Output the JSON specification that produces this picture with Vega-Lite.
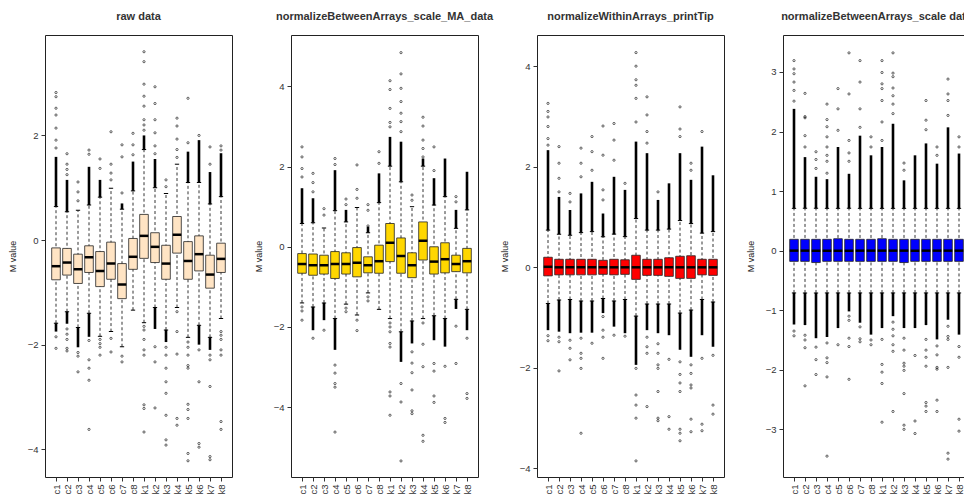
{
"$schema":"https://vega.github.io/schema/vega-lite/v6.json",
"padding":{"left":7,"top":10,"right":0,"bottom":0},
"bounds":"flush",
"spacing":59,
"datasets":{
"b1":[
{"g":"c1","lo":-1.59,"q1":-0.76,"md":-0.5,"q3":-0.15,"hi":0.64},
{"g":"c2","lo":-1.37,"q1":-0.67,"md":-0.43,"q3":-0.16,"hi":0.54},
{"g":"c3","lo":-1.67,"q1":-0.83,"md":-0.56,"q3":-0.27,"hi":0.57},
{"g":"c4","lo":-1.4,"q1":-0.62,"md":-0.33,"q3":-0.11,"hi":0.67},
{"g":"c5","lo":-1.84,"q1":-0.89,"md":-0.59,"q3":-0.22,"hi":0.82},
{"g":"c6","lo":-1.75,"q1":-0.75,"md":-0.45,"q3":-0.04,"hi":0.99},
{"g":"c7","lo":-2.04,"q1":-1.12,"md":-0.85,"q3":-0.45,"hi":0.59},
{"g":"c8","lo":-1.34,"q1":-0.56,"md":-0.32,"q3":0.03,"hi":0.94},
{"g":"k1","lo":-1.58,"q1":-0.35,"md":0.08,"q3":0.49,"hi":1.73},
{"g":"k2","lo":-1.29,"q1":-0.43,"md":-0.13,"q3":0.14,"hi":1.0},
{"g":"k3","lo":-1.72,"q1":-0.75,"md":-0.45,"q3":-0.1,"hi":0.89},
{"g":"k4","lo":-1.29,"q1":-0.25,"md":0.1,"q3":0.45,"hi":1.45},
{"g":"k5","lo":-1.86,"q1":-0.75,"md":-0.4,"q3":-0.03,"hi":1.1},
{"g":"k6","lo":-1.63,"q1":-0.59,"md":-0.27,"q3":0.08,"hi":1.1},
{"g":"k7","lo":-1.86,"q1":-0.92,"md":-0.66,"q3":-0.29,"hi":0.69},
{"g":"k8","lo":-1.5,"q1":-0.62,"md":-0.36,"q3":-0.06,"hi":0.83}],
"d1":[
{"g":"c1","a":0.64,"b":1.59},{"g":"c1","a":-1.75,"b":-1.59},
{"g":"c2","a":0.54,"b":1.15},{"g":"c2","a":-1.6,"b":-1.37},
{"g":"c3","a":-2.05,"b":-1.67},
{"g":"c4","a":0.67,"b":1.4},{"g":"c4","a":-1.85,"b":-1.4},
{"g":"c5","a":0.82,"b":1.15},
{"g":"c7","a":0.59,"b":0.7},
{"g":"c8","a":0.94,"b":1.5},
{"g":"k1","a":1.73,"b":2.0},
{"g":"k2","a":1.0,"b":1.55},{"g":"k2","a":-1.7,"b":-1.29},
{"g":"k3","a":-1.95,"b":-1.72},
{"g":"k5","a":1.1,"b":1.69},
{"g":"k6","a":1.1,"b":1.91},{"g":"k6","a":-2.0,"b":-1.63},
{"g":"k7","a":0.69,"b":1.3},{"g":"k7","a":-2.1,"b":-1.86},
{"g":"k8","a":0.83,"b":1.66}],
"o1":[
{"g":"c1","v":1.76},{"g":"c1","v":1.91},{"g":"c1","v":2.14},{"g":"c1","v":2.39},{"g":"c1","v":2.52},{"g":"c1","v":2.74},{"g":"c1","v":2.82},{"g":"c1","v":-1.85},{"g":"c1","v":-2.07},
{"g":"c2","v":1.25},{"g":"c2","v":1.35},{"g":"c2","v":1.45},{"g":"c2","v":1.65},{"g":"c2","v":-1.7},{"g":"c2","v":-1.8},{"g":"c2","v":-1.9},{"g":"c2","v":-2.07},{"g":"c2","v":-2.12},
{"g":"c3","v":0.75},{"g":"c3","v":0.92},{"g":"c3","v":1.11},{"g":"c3","v":-2.15},{"g":"c3","v":-2.22},{"g":"c3","v":-2.52},
{"g":"c4","v":1.64},{"g":"c4","v":1.72},{"g":"c4","v":-1.92},{"g":"c4","v":-2.29},{"g":"c4","v":-2.45},{"g":"c4","v":-2.68},{"g":"c4","v":-3.62},
{"g":"c5","v":1.37},{"g":"c5","v":1.55},{"g":"c5","v":-1.9},{"g":"c5","v":-1.98},{"g":"c5","v":-2.05},{"g":"c5","v":-2.2},
{"g":"c6","v":1.15},{"g":"c6","v":1.28},{"g":"c6","v":1.45},{"g":"c6","v":2.07},{"g":"c6","v":-1.88},{"g":"c6","v":-2.14},
{"g":"c7","v":0.9},{"g":"c7","v":1.59},{"g":"c7","v":1.82},{"g":"c7","v":-2.22},{"g":"c7","v":-2.33},
{"g":"c8","v":1.63},{"g":"c8","v":1.82},{"g":"c8","v":2.04},
{"g":"k1","v":2.1},{"g":"k1","v":2.2},{"g":"k1","v":2.3},{"g":"k1","v":2.56},{"g":"k1","v":2.75},{"g":"k1","v":2.98},{"g":"k1","v":3.41},{"g":"k1","v":3.6},{"g":"k1","v":-1.65},{"g":"k1","v":-1.72},{"g":"k1","v":-1.9},{"g":"k1","v":-2.1},{"g":"k1","v":-2.2},{"g":"k1","v":-3.15},{"g":"k1","v":-3.22},{"g":"k1","v":-3.67},
{"g":"k2","v":1.65},{"g":"k2","v":1.8},{"g":"k2","v":2.05},{"g":"k2","v":2.3},{"g":"k2","v":2.61},{"g":"k2","v":2.93},{"g":"k2","v":-2.04},{"g":"k2","v":-2.33},{"g":"k2","v":-3.21},
{"g":"k3","v":1.02},{"g":"k3","v":1.15},{"g":"k3","v":-2.05},{"g":"k3","v":-2.2},{"g":"k3","v":-2.45},{"g":"k3","v":-2.71},{"g":"k3","v":-2.93},{"g":"k3","v":-3.35},{"g":"k3","v":-3.82},{"g":"k3","v":-3.92},
{"g":"k4","v":1.58},{"g":"k4","v":1.73},{"g":"k4","v":1.93},{"g":"k4","v":2.18},{"g":"k4","v":2.33},{"g":"k4","v":-1.37},{"g":"k4","v":-1.75},{"g":"k4","v":-2.18},{"g":"k4","v":-3.41},{"g":"k4","v":-3.54},
{"g":"k5","v":1.86},{"g":"k5","v":2.71},{"g":"k5","v":-1.95},{"g":"k5","v":-2.05},{"g":"k5","v":-2.2},{"g":"k5","v":-2.4},{"g":"k5","v":-2.45},{"g":"k5","v":-3.14},{"g":"k5","v":-3.24},{"g":"k5","v":-3.41},{"g":"k5","v":-4.08},{"g":"k5","v":-4.22},
{"g":"k6","v":2.0},{"g":"k6","v":-2.1},{"g":"k6","v":-2.71},{"g":"k6","v":-3.89},{"g":"k6","v":-3.96},
{"g":"k7","v":1.45},{"g":"k7","v":1.78},{"g":"k7","v":-2.2},{"g":"k7","v":-2.29},{"g":"k7","v":-2.8},{"g":"k7","v":-4.14},{"g":"k7","v":-4.2},
{"g":"k8","v":1.72},{"g":"k8","v":1.8},{"g":"k8","v":-1.75},{"g":"k8","v":-1.82},{"g":"k8","v":-1.9},{"g":"k8","v":-2.1},{"g":"k8","v":-2.2},{"g":"k8","v":-3.47},{"g":"k8","v":-3.62}],
"b2":[
{"g":"c1","lo":-1.4,"q1":-0.66,"md":-0.43,"q3":-0.17,"hi":0.58},
{"g":"c2","lo":-1.5,"q1":-0.71,"md":-0.46,"q3":-0.18,"hi":0.6},
{"g":"c3","lo":-1.4,"q1":-0.68,"md":-0.46,"q3":-0.21,"hi":0.47},
{"g":"c4","lo":-1.79,"q1":-0.79,"md":-0.43,"q3":-0.12,"hi":0.9},
{"g":"c5","lo":-1.43,"q1":-0.68,"md":-0.43,"q3":-0.15,"hi":0.62},
{"g":"c6","lo":-1.7,"q1":-0.75,"md":-0.4,"q3":-0.02,"hi":0.98},
{"g":"c7","lo":-1.15,"q1":-0.65,"md":-0.46,"q3":-0.25,"hi":0.35},
{"g":"c8","lo":-1.56,"q1":-0.66,"md":-0.36,"q3":0.04,"hi":1.1},
{"g":"k1","lo":-1.79,"q1":-0.37,"md":0.1,"q3":0.58,"hi":2.01},
{"g":"k2","lo":-2.12,"q1":-0.66,"md":-0.23,"q3":0.22,"hi":1.62},
{"g":"k3","lo":-1.85,"q1":-0.77,"md":-0.46,"q3":-0.15,"hi":1.0},
{"g":"k4","lo":-1.79,"q1":-0.33,"md":0.15,"q3":0.62,"hi":2.01},
{"g":"k5","lo":-1.72,"q1":-0.68,"md":-0.37,"q3":0.0,"hi":1.04},
{"g":"k6","lo":-1.79,"q1":-0.65,"md":-0.31,"q3":0.1,"hi":1.25},
{"g":"k7","lo":-1.31,"q1":-0.62,"md":-0.43,"q3":-0.21,"hi":0.46},
{"g":"k8","lo":-1.56,"q1":-0.65,"md":-0.36,"q3":-0.04,"hi":0.92}],
"d2":[
{"g":"c1","a":0.58,"b":1.46},
{"g":"c2","a":0.6,"b":1.21},{"g":"c2","a":-2.08,"b":-1.5},
{"g":"c3","a":-1.83,"b":-1.4},
{"g":"c4","a":0.9,"b":1.91},{"g":"c4","a":-2.57,"b":-1.79},
{"g":"c5","a":0.62,"b":0.92},
{"g":"c7","a":0.35,"b":0.5},
{"g":"c8","a":1.1,"b":1.83},
{"g":"k1","a":2.01,"b":2.74},
{"g":"k2","a":1.62,"b":2.62},{"g":"k2","a":-2.87,"b":-2.12},
{"g":"k3","a":-2.41,"b":-1.85},
{"g":"k4","a":2.01,"b":2.2},
{"g":"k5","a":1.04,"b":1.71},{"g":"k5","a":-2.33,"b":-1.72},
{"g":"k6","a":1.25,"b":2.2},{"g":"k6","a":-2.49,"b":-1.79},
{"g":"k7","a":0.46,"b":0.92},{"g":"k7","a":-1.55,"b":-1.31},
{"g":"k8","a":0.92,"b":1.87},{"g":"k8","a":-2.08,"b":-1.56}],
"o2":[
{"g":"c1","v":1.74},{"g":"c1","v":1.95},{"g":"c1","v":2.24},{"g":"c1","v":2.49},{"g":"c1","v":-1.5},{"g":"c1","v":-1.6},{"g":"c1","v":-1.83},
{"g":"c2","v":1.37},{"g":"c2","v":1.6},{"g":"c2","v":1.83},{"g":"c2","v":-2.28},
{"g":"c3","v":0.79},{"g":"c3","v":0.95},{"g":"c3","v":-2.08},
{"g":"c4","v":2.05},{"g":"c4","v":2.2},{"g":"c4","v":-2.95},{"g":"c4","v":-3.15},{"g":"c4","v":-3.41},{"g":"c4","v":-3.5},{"g":"c4","v":-4.62},
{"g":"c5","v":1.05},{"g":"c5","v":1.19},{"g":"c5","v":-1.53},{"g":"c5","v":-1.62},
{"g":"c6","v":1.21},{"g":"c6","v":1.43},{"g":"c6","v":2.04},{"g":"c6","v":-1.83},{"g":"c6","v":-2.09},
{"g":"c7","v":0.52},{"g":"c7","v":0.91},{"g":"c7","v":1.05},{"g":"c7","v":-1.25},{"g":"c7","v":-1.35},
{"g":"c8","v":2.08},{"g":"c8","v":2.37},
{"g":"k1","v":2.99},{"g":"k1","v":3.1},{"g":"k1","v":3.45},{"g":"k1","v":3.92},{"g":"k1","v":4.14},{"g":"k1","v":-1.9},{"g":"k1","v":-2.0},{"g":"k1","v":-2.12},{"g":"k1","v":-2.41},{"g":"k1","v":-2.5},{"g":"k1","v":-3.62},{"g":"k1","v":-3.72},{"g":"k1","v":-4.2},
{"g":"k2","v":2.87},{"g":"k2","v":3.12},{"g":"k2","v":3.33},{"g":"k2","v":3.62},{"g":"k2","v":3.95},{"g":"k2","v":4.31},{"g":"k2","v":4.84},{"g":"k2","v":-3.41},{"g":"k2","v":-3.87},{"g":"k2","v":-5.34},
{"g":"k3","v":1.16},{"g":"k3","v":1.29},{"g":"k3","v":-2.62},{"g":"k3","v":-2.9},{"g":"k3","v":-3.14},{"g":"k3","v":-3.57},{"g":"k3","v":-4.09},{"g":"k3","v":-4.16},
{"g":"k4","v":2.24},{"g":"k4","v":2.45},{"g":"k4","v":2.66},{"g":"k4","v":3.01},{"g":"k4","v":3.23},{"g":"k4","v":-1.9},{"g":"k4","v":-2.43},{"g":"k4","v":-2.99},{"g":"k4","v":-4.7},{"g":"k4","v":-4.85},
{"g":"k5","v":1.9},{"g":"k5","v":2.49},{"g":"k5","v":-2.91},{"g":"k5","v":-3.1},{"g":"k5","v":-3.72},{"g":"k5","v":-3.88},
{"g":"k6","v":-2.98},{"g":"k6","v":-4.28},{"g":"k6","v":-4.38},
{"g":"k7","v":1.12},{"g":"k7","v":1.25},{"g":"k7","v":-1.98},{"g":"k7","v":-2.91},
{"g":"k8","v":-2.28},{"g":"k8","v":-3.66},{"g":"k8","v":-3.78}],
"b3":[
{"g":"c1","lo":-0.72,"q1":-0.17,"md":0.01,"q3":0.2,"hi":0.74},
{"g":"c2","lo":-0.65,"q1":-0.15,"md":0.0,"q3":0.16,"hi":0.66},
{"g":"c3","lo":-0.64,"q1":-0.15,"md":0.0,"q3":0.16,"hi":0.64},
{"g":"c4","lo":-0.67,"q1":-0.15,"md":0.0,"q3":0.16,"hi":0.69},
{"g":"c5","lo":-0.67,"q1":-0.15,"md":0.0,"q3":0.16,"hi":0.71},
{"g":"c6","lo":-0.62,"q1":-0.14,"md":0.0,"q3":0.14,"hi":0.61},
{"g":"c7","lo":-0.67,"q1":-0.15,"md":0.0,"q3":0.16,"hi":0.66},
{"g":"c8","lo":-0.64,"q1":-0.14,"md":0.0,"q3":0.15,"hi":0.61},
{"g":"k1","lo":-0.97,"q1":-0.24,"md":0.0,"q3":0.24,"hi":0.97},
{"g":"k2","lo":-0.73,"q1":-0.16,"md":0.0,"q3":0.16,"hi":0.74},
{"g":"k3","lo":-0.73,"q1":-0.16,"md":0.0,"q3":0.16,"hi":0.74},
{"g":"k4","lo":-0.73,"q1":-0.18,"md":0.0,"q3":0.19,"hi":0.76},
{"g":"k5","lo":-0.91,"q1":-0.22,"md":0.0,"q3":0.22,"hi":0.93},
{"g":"k6","lo":-0.85,"q1":-0.22,"md":0.0,"q3":0.23,"hi":0.87},
{"g":"k7","lo":-0.64,"q1":-0.15,"md":0.0,"q3":0.16,"hi":0.68},
{"g":"k8","lo":-0.69,"q1":-0.16,"md":0.0,"q3":0.16,"hi":0.71}],
"d3":[
{"g":"c1","a":0.74,"b":2.33},{"g":"c1","a":-1.25,"b":-0.72},
{"g":"c2","a":0.66,"b":1.4},{"g":"c2","a":-1.28,"b":-0.65},
{"g":"c3","a":0.64,"b":1.14},{"g":"c3","a":-1.31,"b":-0.64},
{"g":"c4","a":0.69,"b":1.47},{"g":"c4","a":-1.3,"b":-0.67},
{"g":"c5","a":0.71,"b":1.7},{"g":"c5","a":-1.3,"b":-0.67},
{"g":"c6","a":0.61,"b":1.07},{"g":"c6","a":-0.91,"b":-0.62},
{"g":"c7","a":0.66,"b":1.8},{"g":"c7","a":-1.18,"b":-0.67},
{"g":"c8","a":0.61,"b":1.54},{"g":"c8","a":-1.31,"b":-0.64},
{"g":"k1","a":0.97,"b":2.5},{"g":"k1","a":-1.94,"b":-0.97},
{"g":"k2","a":0.74,"b":2.27},{"g":"k2","a":-1.25,"b":-0.73},
{"g":"k3","a":0.74,"b":1.34},{"g":"k3","a":-1.31,"b":-0.73},
{"g":"k4","a":0.76,"b":1.67},{"g":"k4","a":-1.35,"b":-0.73},
{"g":"k5","a":0.93,"b":2.27},{"g":"k5","a":-1.64,"b":-0.91},
{"g":"k6","a":0.87,"b":1.74},{"g":"k6","a":-1.78,"b":-0.85},
{"g":"k7","a":0.68,"b":2.4},{"g":"k7","a":-1.35,"b":-0.64},
{"g":"k8","a":0.71,"b":1.83},{"g":"k8","a":-1.58,"b":-0.69}],
"o3":[
{"g":"c1","v":2.43},{"g":"c1","v":2.56},{"g":"c1","v":2.8},{"g":"c1","v":2.99},{"g":"c1","v":3.1},{"g":"c1","v":3.26},{"g":"c1","v":-1.36},{"g":"c1","v":-1.46},
{"g":"c2","v":1.5},{"g":"c2","v":1.77},{"g":"c2","v":2.07},{"g":"c2","v":2.4},{"g":"c2","v":-1.39},{"g":"c2","v":-1.48},{"g":"c2","v":-2.06},
{"g":"c3","v":1.3},{"g":"c3","v":1.47},{"g":"c3","v":-1.45},{"g":"c3","v":-1.61},{"g":"c3","v":-1.84},
{"g":"c4","v":1.8},{"g":"c4","v":2.07},{"g":"c4","v":2.37},{"g":"c4","v":-1.41},{"g":"c4","v":-1.71},{"g":"c4","v":-1.81},{"g":"c4","v":-2.01},{"g":"c4","v":-3.3},
{"g":"c5","v":1.93},{"g":"c5","v":2.3},{"g":"c5","v":2.6},{"g":"c5","v":-1.51},
{"g":"c6","v":1.34},{"g":"c6","v":1.54},{"g":"c6","v":2.23},{"g":"c6","v":2.81},{"g":"c6","v":-0.98},{"g":"c6","v":-1.25},{"g":"c6","v":-1.39},{"g":"c6","v":-1.81},
{"g":"c7","v":2.13},{"g":"c7","v":2.53},{"g":"c7","v":2.86},{"g":"c7","v":-1.35},
{"g":"c8","v":1.67},{"g":"c8","v":-1.37},
{"g":"k1","v":2.89},{"g":"k1","v":3.36},{"g":"k1","v":3.62},{"g":"k1","v":3.73},{"g":"k1","v":4.0},{"g":"k1","v":4.27},{"g":"k1","v":-2.01},{"g":"k1","v":-2.54},{"g":"k1","v":-2.74},{"g":"k1","v":-3.0},{"g":"k1","v":-3.85},
{"g":"k2","v":2.47},{"g":"k2","v":2.7},{"g":"k2","v":3.03},{"g":"k2","v":3.39},{"g":"k2","v":-1.39},{"g":"k2","v":-1.58},{"g":"k2","v":-1.71},{"g":"k2","v":-2.77},
{"g":"k3","v":1.5},{"g":"k3","v":-1.52},{"g":"k3","v":-1.71},{"g":"k3","v":-1.94},{"g":"k3","v":-2.01},{"g":"k3","v":-2.47},{"g":"k3","v":-3.0},{"g":"k3","v":-3.05},
{"g":"k4","v":-1.83},{"g":"k4","v":-2.97},{"g":"k4","v":-3.22},
{"g":"k5","v":2.6},{"g":"k5","v":2.75},{"g":"k5","v":3.19},{"g":"k5","v":-1.88},{"g":"k5","v":-2.13},{"g":"k5","v":-2.3},{"g":"k5","v":-2.47},{"g":"k5","v":-3.22},{"g":"k5","v":-3.3},{"g":"k5","v":-3.45},
{"g":"k6","v":1.93},{"g":"k6","v":2.07},{"g":"k6","v":-1.94},{"g":"k6","v":-2.11},{"g":"k6","v":-2.34},{"g":"k6","v":-2.4},{"g":"k6","v":-3.02},{"g":"k6","v":-3.27},
{"g":"k7","v":2.7},{"g":"k7","v":-1.81},{"g":"k7","v":-3.12},{"g":"k7","v":-3.25},
{"g":"k8","v":-1.75},{"g":"k8","v":-2.74},{"g":"k8","v":-2.92}],
"b4":[
{"g":"c1","lo":-0.71,"q1":-0.18,"md":0.0,"q3":0.19,"hi":0.71},
{"g":"c2","lo":-0.71,"q1":-0.18,"md":0.0,"q3":0.19,"hi":0.71},
{"g":"c3","lo":-0.71,"q1":-0.2,"md":0.0,"q3":0.19,"hi":0.71},
{"g":"c4","lo":-0.71,"q1":-0.18,"md":0.0,"q3":0.19,"hi":0.71},
{"g":"c5","lo":-0.71,"q1":-0.18,"md":0.0,"q3":0.2,"hi":0.71},
{"g":"c6","lo":-0.71,"q1":-0.18,"md":0.0,"q3":0.19,"hi":0.71},
{"g":"c7","lo":-0.71,"q1":-0.18,"md":0.0,"q3":0.19,"hi":0.71},
{"g":"c8","lo":-0.71,"q1":-0.18,"md":0.0,"q3":0.19,"hi":0.71},
{"g":"k1","lo":-0.71,"q1":-0.18,"md":0.0,"q3":0.2,"hi":0.71},
{"g":"k2","lo":-0.71,"q1":-0.18,"md":0.0,"q3":0.19,"hi":0.71},
{"g":"k3","lo":-0.71,"q1":-0.2,"md":0.0,"q3":0.19,"hi":0.71},
{"g":"k4","lo":-0.71,"q1":-0.18,"md":0.0,"q3":0.19,"hi":0.71},
{"g":"k5","lo":-0.71,"q1":-0.18,"md":0.0,"q3":0.19,"hi":0.71},
{"g":"k6","lo":-0.71,"q1":-0.18,"md":0.0,"q3":0.19,"hi":0.71},
{"g":"k7","lo":-0.71,"q1":-0.18,"md":0.0,"q3":0.19,"hi":0.71},
{"g":"k8","lo":-0.71,"q1":-0.18,"md":0.0,"q3":0.19,"hi":0.71}],
"d4":[
{"g":"c1","a":0.71,"b":2.38},{"g":"c1","a":-1.24,"b":-0.71},
{"g":"c2","a":0.71,"b":1.57},{"g":"c2","a":-1.25,"b":-0.71},
{"g":"c3","a":0.71,"b":1.24},{"g":"c3","a":-1.47,"b":-0.71},
{"g":"c4","a":0.71,"b":1.2},{"g":"c4","a":-1.45,"b":-0.71},
{"g":"c5","a":0.71,"b":1.74},{"g":"c5","a":-1.3,"b":-0.71},
{"g":"c6","a":0.71,"b":1.29},{"g":"c6","a":-1.02,"b":-0.71},
{"g":"c7","a":0.71,"b":1.93},{"g":"c7","a":-1.21,"b":-0.71},
{"g":"c8","a":0.71,"b":1.6},{"g":"c8","a":-1.41,"b":-0.71},
{"g":"k1","a":0.71,"b":1.74},{"g":"k1","a":-1.3,"b":-0.71},
{"g":"k2","a":0.71,"b":2.13},{"g":"k2","a":-1.1,"b":-0.71},
{"g":"k3","a":0.71,"b":1.18},{"g":"k3","a":-1.3,"b":-0.71},
{"g":"k4","a":0.71,"b":1.6},{"g":"k4","a":-1.3,"b":-0.71},
{"g":"k5","a":0.71,"b":1.8},{"g":"k5","a":-1.25,"b":-0.71},
{"g":"k6","a":0.71,"b":1.46},{"g":"k6","a":-1.49,"b":-0.71},
{"g":"k7","a":0.71,"b":2.07},{"g":"k7","a":-1.16,"b":-0.71},
{"g":"k8","a":0.71,"b":1.63},{"g":"k8","a":-1.41,"b":-0.71}],
"o4":[
{"g":"c1","v":2.51},{"g":"c1","v":2.69},{"g":"c1","v":2.83},{"g":"c1","v":2.97},{"g":"c1","v":3.05},{"g":"c1","v":3.19},{"g":"c1","v":-1.35},{"g":"c1","v":-1.43},
{"g":"c2","v":1.74},{"g":"c2","v":1.93},{"g":"c2","v":2.23},{"g":"c2","v":2.25},{"g":"c2","v":2.64},{"g":"c2","v":-1.42},{"g":"c2","v":-1.5},{"g":"c2","v":-1.63},{"g":"c2","v":-2.27},
{"g":"c3","v":1.38},{"g":"c3","v":1.53},{"g":"c3","v":1.66},{"g":"c3","v":-1.62},{"g":"c3","v":-1.83},{"g":"c3","v":-2.08},
{"g":"c4","v":1.3},{"g":"c4","v":1.5},{"g":"c4","v":1.6},{"g":"c4","v":1.74},{"g":"c4","v":1.91},{"g":"c4","v":2.08},{"g":"c4","v":2.2},{"g":"c4","v":2.46},{"g":"c4","v":-1.55},{"g":"c4","v":-1.8},{"g":"c4","v":-1.88},{"g":"c4","v":-2.12},{"g":"c4","v":-3.45},
{"g":"c5","v":2.02},{"g":"c5","v":2.38},{"g":"c5","v":2.72},{"g":"c5","v":-1.58},
{"g":"c6","v":1.5},{"g":"c6","v":1.64},{"g":"c6","v":1.85},{"g":"c6","v":2.63},{"g":"c6","v":3.32},{"g":"c6","v":-1.1},{"g":"c6","v":-1.17},{"g":"c6","v":-1.47},{"g":"c6","v":-1.61},{"g":"c6","v":-2.16},
{"g":"c7","v":2.07},{"g":"c7","v":2.38},{"g":"c7","v":2.83},{"g":"c7","v":3.19},{"g":"c7","v":-1.28},{"g":"c7","v":-1.48},{"g":"c7","v":-1.53},
{"g":"c8","v":1.74},{"g":"c8","v":1.91},{"g":"c8","v":-1.5},{"g":"c8","v":-1.58},
{"g":"k1","v":1.85},{"g":"k1","v":2.16},{"g":"k1","v":2.52},{"g":"k1","v":2.72},{"g":"k1","v":2.8},{"g":"k1","v":2.99},{"g":"k1","v":3.19},{"g":"k1","v":-1.49},{"g":"k1","v":-1.91},{"g":"k1","v":-2.04},{"g":"k1","v":-2.23},{"g":"k1","v":-2.88},
{"g":"k2","v":2.3},{"g":"k2","v":2.46},{"g":"k2","v":2.6},{"g":"k2","v":2.73},{"g":"k2","v":2.92},{"g":"k2","v":2.98},{"g":"k2","v":3.32},{"g":"k2","v":-1.2},{"g":"k2","v":-1.32},{"g":"k2","v":-1.43},{"g":"k2","v":-1.58},{"g":"k2","v":-1.69},{"g":"k2","v":-2.7},
{"g":"k3","v":1.35},{"g":"k3","v":1.47},{"g":"k3","v":-1.47},{"g":"k3","v":-1.67},{"g":"k3","v":-1.89},{"g":"k3","v":-1.94},{"g":"k3","v":-2.01},{"g":"k3","v":-2.4},{"g":"k3","v":-2.93},{"g":"k3","v":-3.0},
{"g":"k4","v":-1.76},{"g":"k4","v":-2.86},{"g":"k4","v":-3.07},
{"g":"k5","v":2.03},{"g":"k5","v":2.19},{"g":"k5","v":2.52},{"g":"k5","v":-1.49},{"g":"k5","v":-1.67},{"g":"k5","v":-1.79},{"g":"k5","v":-1.94},{"g":"k5","v":-2.55},{"g":"k5","v":-2.61},{"g":"k5","v":-2.7},
{"g":"k6","v":1.6},{"g":"k6","v":1.74},{"g":"k6","v":-1.6},{"g":"k6","v":-1.75},{"g":"k6","v":-1.96},{"g":"k6","v":-1.99},{"g":"k6","v":-2.51},{"g":"k6","v":-2.7},
{"g":"k7","v":2.27},{"g":"k7","v":2.52},{"g":"k7","v":2.63},{"g":"k7","v":2.88},{"g":"k7","v":-1.27},{"g":"k7","v":-1.44},{"g":"k7","v":-1.49},{"g":"k7","v":-1.96},{"g":"k7","v":-3.4},{"g":"k7","v":-3.5},
{"g":"k8","v":1.74},{"g":"k8","v":1.91},{"g":"k8","v":-1.61},{"g":"k8","v":-1.79},{"g":"k8","v":-2.83},{"g":"k8","v":-3.03}]
},
"hconcat":[
{"width":187,"height":442,"title":"raw data",
"layer":[
{"data":{"name":"b1"},"mark":{"type":"rule","strokeDash":[3,2.5],"strokeWidth":0.8,"color":"#000"},
"encoding":{"x":{"field":"g","type":"nominal","scale":{"type":"point","padding":1.14},"axis":{"title":null}},
"y":{"field":"lo","type":"quantitative","scale":{"domain":[-4.53,3.92],"nice":false,"zero":false},"axis":{"title":"M value","values":[-4,-2,0,2],"format":"d"}},"y2":{"field":"hi"}}},
{"data":{"name":"d1"},"mark":{"type":"rule","strokeWidth":2.6,"color":"#000"},"encoding":{"x":{"field":"g","type":"nominal"},"y":{"field":"a","type":"quantitative"},"y2":{"field":"b"}}},
{"data":{"name":"o1"},"mark":{"type":"point","shape":"circle","size":5,"filled":false,"stroke":"#000","strokeWidth":0.6,"opacity":1},"encoding":{"x":{"field":"g","type":"nominal"},"y":{"field":"v","type":"quantitative"}}},
{"data":{"name":"b1"},"mark":{"type":"bar","size":8.6,"fill":"#FFE4C4","stroke":"#222","strokeWidth":0.8},"encoding":{"x":{"field":"g","type":"nominal"},"y":{"field":"q1","type":"quantitative"},"y2":{"field":"q3"}}},
{"data":{"name":"b1"},"mark":{"type":"tick","size":8.6,"thickness":2.5,"color":"#000","opacity":1},"encoding":{"x":{"field":"g","type":"nominal"},"y":{"field":"md","type":"quantitative"}}},
{"data":{"name":"b1"},"mark":{"type":"tick","size":4.3,"thickness":1,"color":"#000","opacity":1},"encoding":{"x":{"field":"g","type":"nominal"},"y":{"field":"lo","type":"quantitative"}}},
{"data":{"name":"b1"},"mark":{"type":"tick","size":4.3,"thickness":1,"color":"#000","opacity":1},"encoding":{"x":{"field":"g","type":"nominal"},"y":{"field":"hi","type":"quantitative"}}}
]},
{"width":187,"height":442,"title":"normalizeBetweenArrays_scale_MA_data",
"layer":[
{"data":{"name":"b2"},"mark":{"type":"rule","strokeDash":[3,2.5],"strokeWidth":0.8,"color":"#000"},
"encoding":{"x":{"field":"g","type":"nominal","scale":{"type":"point","padding":1.14},"axis":{"title":null}},
"y":{"field":"lo","type":"quantitative","scale":{"domain":[-5.74,5.28],"nice":false,"zero":false},"axis":{"title":"M value","values":[-4,-2,0,2,4],"format":"d"}},"y2":{"field":"hi"}}},
{"data":{"name":"d2"},"mark":{"type":"rule","strokeWidth":2.6,"color":"#000"},"encoding":{"x":{"field":"g","type":"nominal"},"y":{"field":"a","type":"quantitative"},"y2":{"field":"b"}}},
{"data":{"name":"o2"},"mark":{"type":"point","shape":"circle","size":5,"filled":false,"stroke":"#000","strokeWidth":0.6,"opacity":1},"encoding":{"x":{"field":"g","type":"nominal"},"y":{"field":"v","type":"quantitative"}}},
{"data":{"name":"b2"},"mark":{"type":"bar","size":8.6,"fill":"#FFD700","stroke":"#222","strokeWidth":0.8},"encoding":{"x":{"field":"g","type":"nominal"},"y":{"field":"q1","type":"quantitative"},"y2":{"field":"q3"}}},
{"data":{"name":"b2"},"mark":{"type":"tick","size":8.6,"thickness":2.5,"color":"#000","opacity":1},"encoding":{"x":{"field":"g","type":"nominal"},"y":{"field":"md","type":"quantitative"}}},
{"data":{"name":"b2"},"mark":{"type":"tick","size":4.3,"thickness":1,"color":"#000","opacity":1},"encoding":{"x":{"field":"g","type":"nominal"},"y":{"field":"lo","type":"quantitative"}}},
{"data":{"name":"b2"},"mark":{"type":"tick","size":4.3,"thickness":1,"color":"#000","opacity":1},"encoding":{"x":{"field":"g","type":"nominal"},"y":{"field":"hi","type":"quantitative"}}}
]},
{"width":187,"height":442,"title":"normalizeWithinArrays_printTip",
"layer":[
{"data":{"name":"b3"},"mark":{"type":"rule","strokeDash":[3,2.5],"strokeWidth":0.8,"color":"#000"},
"encoding":{"x":{"field":"g","type":"nominal","scale":{"type":"point","padding":1.14},"axis":{"title":null}},
"y":{"field":"lo","type":"quantitative","scale":{"domain":[-4.17,4.62],"nice":false,"zero":false},"axis":{"title":"M value","values":[-4,-2,0,2,4],"format":"d"}},"y2":{"field":"hi"}}},
{"data":{"name":"d3"},"mark":{"type":"rule","strokeWidth":2.6,"color":"#000"},"encoding":{"x":{"field":"g","type":"nominal"},"y":{"field":"a","type":"quantitative"},"y2":{"field":"b"}}},
{"data":{"name":"o3"},"mark":{"type":"point","shape":"circle","size":5,"filled":false,"stroke":"#000","strokeWidth":0.6,"opacity":1},"encoding":{"x":{"field":"g","type":"nominal"},"y":{"field":"v","type":"quantitative"}}},
{"data":{"name":"b3"},"mark":{"type":"bar","size":8.6,"fill":"#FF0000","stroke":"#222","strokeWidth":0.8},"encoding":{"x":{"field":"g","type":"nominal"},"y":{"field":"q1","type":"quantitative"},"y2":{"field":"q3"}}},
{"data":{"name":"b3"},"mark":{"type":"tick","size":8.6,"thickness":2.5,"color":"#000","opacity":1},"encoding":{"x":{"field":"g","type":"nominal"},"y":{"field":"md","type":"quantitative"}}},
{"data":{"name":"b3"},"mark":{"type":"tick","size":4.3,"thickness":1,"color":"#000","opacity":1},"encoding":{"x":{"field":"g","type":"nominal"},"y":{"field":"lo","type":"quantitative"}}},
{"data":{"name":"b3"},"mark":{"type":"tick","size":4.3,"thickness":1,"color":"#000","opacity":1},"encoding":{"x":{"field":"g","type":"nominal"},"y":{"field":"hi","type":"quantitative"}}}
]},
{"width":187,"height":442,"title":"normalizeBetweenArrays_scale data",
"layer":[
{"data":{"name":"b4"},"mark":{"type":"rule","strokeDash":[3,2.5],"strokeWidth":0.8,"color":"#000"},
"encoding":{"x":{"field":"g","type":"nominal","scale":{"type":"point","padding":1.14},"axis":{"title":null}},
"y":{"field":"lo","type":"quantitative","scale":{"domain":[-3.8,3.62],"nice":false,"zero":false},"axis":{"title":"M value","values":[-3,-2,-1,0,1,2,3],"format":"d"}},"y2":{"field":"hi"}}},
{"data":{"name":"d4"},"mark":{"type":"rule","strokeWidth":2.6,"color":"#000"},"encoding":{"x":{"field":"g","type":"nominal"},"y":{"field":"a","type":"quantitative"},"y2":{"field":"b"}}},
{"data":{"name":"o4"},"mark":{"type":"point","shape":"circle","size":5,"filled":false,"stroke":"#000","strokeWidth":0.6,"opacity":1},"encoding":{"x":{"field":"g","type":"nominal"},"y":{"field":"v","type":"quantitative"}}},
{"data":{"name":"b4"},"mark":{"type":"bar","size":8.6,"fill":"#0000FF","stroke":"#222","strokeWidth":0.8},"encoding":{"x":{"field":"g","type":"nominal"},"y":{"field":"q1","type":"quantitative"},"y2":{"field":"q3"}}},
{"data":{"name":"b4"},"mark":{"type":"tick","size":8.6,"thickness":2.5,"color":"#000","opacity":1},"encoding":{"x":{"field":"g","type":"nominal"},"y":{"field":"md","type":"quantitative"}}},
{"data":{"name":"b4"},"mark":{"type":"tick","size":4.3,"thickness":1,"color":"#000","opacity":1},"encoding":{"x":{"field":"g","type":"nominal"},"y":{"field":"lo","type":"quantitative"}}},
{"data":{"name":"b4"},"mark":{"type":"tick","size":4.3,"thickness":1,"color":"#000","opacity":1},"encoding":{"x":{"field":"g","type":"nominal"},"y":{"field":"hi","type":"quantitative"}}}
]}
],
"config":{
"font":"Liberation Sans",
"view":{"stroke":"#222","strokeWidth":1},
"axis":{"labelFont":"Liberation Sans","labelFontSize":9.5,"labelColor":"#333","tickColor":"#333","tickSize":4,"labelPadding":3,"domain":false,"grid":false,"titleFont":"Liberation Sans","titleFontWeight":"normal","titleFontSize":9,"titleColor":"#222"},
"axisX":{"labelAngle":-90,"labelFontSize":9.5},
"axisY":{"titleX":-28,"titleBaseline":"bottom"},
"title":{"font":"Liberation Sans","fontSize":11,"fontWeight":"bold","color":"#333","offset":13,"frame":"group","anchor":"middle"}
}
}
